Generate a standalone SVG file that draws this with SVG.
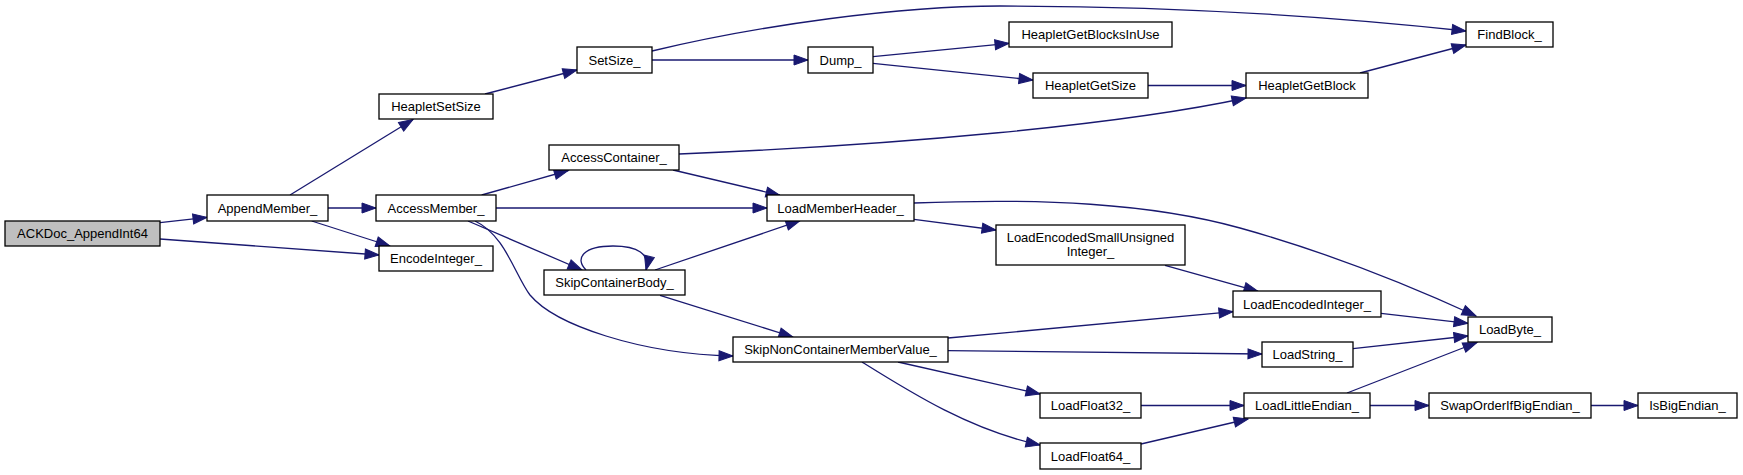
<svg xmlns="http://www.w3.org/2000/svg" width="1743" height="475" viewBox="0 0 1743 475">
<style>
.n rect{fill:#ffffff;stroke:#000000;stroke-width:1.3}
.n.root rect{fill:#bfbfbf}
.n text{font-family:"Liberation Sans",Arial,sans-serif;font-size:13px;fill:#000000;text-anchor:middle}
.e path{fill:none;stroke:#191970;stroke-width:1.3;marker-end:url(#arr)}
</style>
<defs>
<marker id="arr" markerUnits="userSpaceOnUse" markerWidth="15" markerHeight="11" refX="14" refY="5" orient="auto" overflow="visible">
<path d="M0,0 L14,5 L0,10 Z" fill="#191970" stroke="#191970" stroke-width="1"/>
</marker>
</defs>
<rect width="1743" height="475" fill="#ffffff"/>
<g id="edges" class="e">
<path d="M160,222.7 L207,217.3"/>
<path d="M160,239 L379,255"/>
<path d="M290,195 L413,119.5"/>
<path d="M328,208 L376,208"/>
<path d="M311.7,221 L390,246"/>
<path d="M485,94 L577,70"/>
<path d="M652,60 L808,60"/>
<path d="M652,51 C760,25 900,6 1000,6 C1150,6 1300,13 1466,31"/>
<path d="M873,56.7 L1009,43.3"/>
<path d="M873,63.3 L1033,80"/>
<path d="M1148,85.5 L1246,85.5"/>
<path d="M1360,73 L1466,45"/>
<path d="M679,154 C900,145 1120,125 1246,98"/>
<path d="M481.7,195 L568.3,170.5"/>
<path d="M496,208 L767,208"/>
<path d="M468,221 L582,270"/>
<path d="M475,221 C505,235 515,275 530,295 C555,325 640,354 733,356"/>
<path d="M673,170 L780,195.3"/>
<path d="M586,270 C574,258 584,246 613,246 C638,246 650,254 646,270"/>
<path d="M655,270 L800,220.7"/>
<path d="M660,295.3 L793,337"/>
<path d="M914,203 C1040,198 1150,203 1240,228 C1330,253 1415,288 1476,316"/>
<path d="M914,219.3 L996,230"/>
<path d="M1165,265.3 L1258,291.3"/>
<path d="M948,338 L1233,311.7"/>
<path d="M948,350.7 L1262,354"/>
<path d="M898,362 L1040,394"/>
<path d="M862,362 C910,392 970,430 1040,445"/>
<path d="M1141,405.5 L1244,405.5"/>
<path d="M1141,444 L1248,419"/>
<path d="M1381,313.3 L1468,323.3"/>
<path d="M1353,348.7 L1468,336"/>
<path d="M1347,393 L1477,342.5"/>
<path d="M1370,405.5 L1429,405.5"/>
<path d="M1591,405.5 L1638,405.5"/>
</g>
<g id="ACKDoc_AppendInt64" class="n root"><rect x="5" y="221" width="155" height="25"/><text x="82.5" y="238">ACKDoc_AppendInt64</text></g>
<g id="AppendMember_" class="n"><rect x="207" y="195" width="121" height="26"/><text x="267.5" y="212.5">AppendMember_</text></g>
<g id="HeapletSetSize" class="n"><rect x="379" y="94" width="114" height="25"/><text x="436" y="111">HeapletSetSize</text></g>
<g id="AccessMember_" class="n"><rect x="376" y="195" width="120" height="26"/><text x="436" y="212.5">AccessMember_</text></g>
<g id="EncodeInteger_" class="n"><rect x="379" y="246" width="114" height="25"/><text x="436" y="263">EncodeInteger_</text></g>
<g id="SetSize_" class="n"><rect x="577" y="47" width="75" height="26"/><text x="614.5" y="64.5">SetSize_</text></g>
<g id="Dump_" class="n"><rect x="808" y="47" width="65" height="26"/><text x="840.5" y="64.5">Dump_</text></g>
<g id="AccessContainer_" class="n"><rect x="549" y="145" width="130" height="25"/><text x="614" y="162">AccessContainer_</text></g>
<g id="LoadMemberHeader_" class="n"><rect x="767" y="195" width="147" height="26"/><text x="840.5" y="212.5">LoadMemberHeader_</text></g>
<g id="SkipContainerBody_" class="n"><rect x="544" y="270" width="141" height="25"/><text x="614.5" y="287">SkipContainerBody_</text></g>
<g id="SkipNonContainerMemberValue_" class="n"><rect x="733" y="337" width="215" height="25"/><text x="840.5" y="354">SkipNonContainerMemberValue_</text></g>
<g id="HeapletGetBlocksInUse" class="n"><rect x="1009" y="22" width="163" height="25"/><text x="1090.5" y="39">HeapletGetBlocksInUse</text></g>
<g id="HeapletGetSize" class="n"><rect x="1033" y="73" width="115" height="25"/><text x="1090.5" y="90">HeapletGetSize</text></g>
<g id="LoadEncodedSmallUnsignedInteger_" class="n"><rect x="996" y="225" width="189" height="40"/><text x="1090.5" y="241.5">LoadEncodedSmallUnsigned</text><text x="1090.5" y="256">Integer_</text></g>
<g id="LoadFloat32_" class="n"><rect x="1040" y="393" width="101" height="25"/><text x="1090.5" y="410">LoadFloat32_</text></g>
<g id="LoadFloat64_" class="n"><rect x="1040" y="443" width="101" height="26"/><text x="1090.5" y="460.5">LoadFloat64_</text></g>
<g id="HeapletGetBlock" class="n"><rect x="1246" y="73" width="122" height="25"/><text x="1307" y="90">HeapletGetBlock</text></g>
<g id="LoadEncodedInteger_" class="n"><rect x="1233" y="291" width="148" height="26"/><text x="1307" y="308.5">LoadEncodedInteger_</text></g>
<g id="LoadString_" class="n"><rect x="1262" y="342" width="91" height="25"/><text x="1307.5" y="359">LoadString_</text></g>
<g id="LoadLittleEndian_" class="n"><rect x="1244" y="393" width="126" height="25"/><text x="1307" y="410">LoadLittleEndian_</text></g>
<g id="FindBlock_" class="n"><rect x="1466" y="22" width="87" height="25"/><text x="1509.5" y="39">FindBlock_</text></g>
<g id="LoadByte_" class="n"><rect x="1468" y="317" width="84" height="25"/><text x="1510" y="334">LoadByte_</text></g>
<g id="SwapOrderIfBigEndian_" class="n"><rect x="1429" y="393" width="162" height="25"/><text x="1510" y="410">SwapOrderIfBigEndian_</text></g>
<g id="IsBigEndian_" class="n"><rect x="1638" y="393" width="99" height="25"/><text x="1687.5" y="410">IsBigEndian_</text></g>
</svg>
